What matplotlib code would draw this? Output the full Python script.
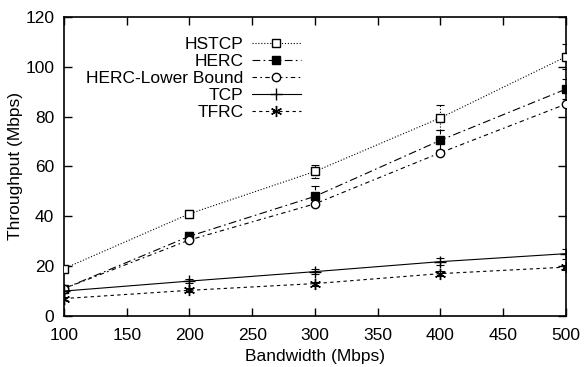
import matplotlib
matplotlib.use('Agg')
import matplotlib.pyplot as plt

plt.rcParams['font.family'] = ['Liberation Sans', 'DejaVu Sans']
plt.rcParams['font.size'] = 12.5

# data
bandwidth = [100, 200, 300, 400, 500]

hstcp = [19, 41, 58, 79.5, 104]
hstcp_err = [1, 1.5, 2.5, 5, 5]

herc = [11, 32, 48, 70.5, 91]
herc_err = [1, 1.5, 4, 4, 4]

herc_lb = [11, 30.5, 45, 65.5, 85]

tcp = [10, 14, 17.8, 21.8, 25]
tcp_err = [0.5, 0.8, 1, 1.5, 2]

tfrc = [7, 10.3, 13, 17, 19.6]
tfrc_err = [0.5, 0.8, 0.8, 1, 1]

fig = plt.figure(figsize=(5.84, 3.67), dpi=100)
ax = fig.add_axes([0.1096, 0.139, 0.8594, 0.815])

asterisk = (6, 2, 0)

def plot_series(y, err, label, ls, marker, mfc, ms):
    line, = ax.plot(bandwidth, y, linestyle=ls, color='black', linewidth=0.8,
                    marker=marker, markerfacecolor=mfc, markeredgecolor='black',
                    markersize=ms, markeredgewidth=1.0, label=label, zorder=3)
    if err is not None:
        eb = ax.errorbar(bandwidth, y, yerr=err, fmt='none', ecolor='black',
                         elinewidth=0.8, capsize=3, capthick=0.8, zorder=2)
        for coll in eb[2]:
            coll.set_linestyle(ls)
    return line

plot_series(hstcp, hstcp_err, 'HSTCP', ':', 's', 'white', 6)
plot_series(herc, herc_err, 'HERC', (0, (7, 3, 1.5, 3)), 's', 'black', 6)
plot_series(herc_lb, None, 'HERC-Lower Bound', (0, (4, 3, 1.5, 3)), 'o', 'white', 6)
plot_series(tcp, tcp_err, 'TCP', '-', '+', 'black', 8)
plot_series(tfrc, tfrc_err, 'TFRC', (0, (3, 3)), asterisk, 'black', 8)

ax.set_xlim(100, 500)
ax.set_ylim(0, 120)
ax.set_xticks(range(100, 501, 50))
ax.set_yticks(range(0, 121, 20))
ax.tick_params(axis='x', direction='in', top=True, length=6, width=1, pad=9)
ax.tick_params(axis='y', direction='in', right=True, length=6, width=1, pad=7)
for sp in ax.spines.values():
    sp.set_linewidth(1.2)

ax.set_xlabel('Bandwidth (Mbps)', labelpad=4)
ax.set_ylabel('Throughput (Mbps)', labelpad=2)

ax.legend(loc='upper left', bbox_to_anchor=(0.03, 0.955), markerfirst=False,
          frameon=False, handlelength=2.8, handletextpad=0.5, labelspacing=0.1,
          borderaxespad=0, fontsize=12.5)

fig.savefig('out.png', dpi=100)
